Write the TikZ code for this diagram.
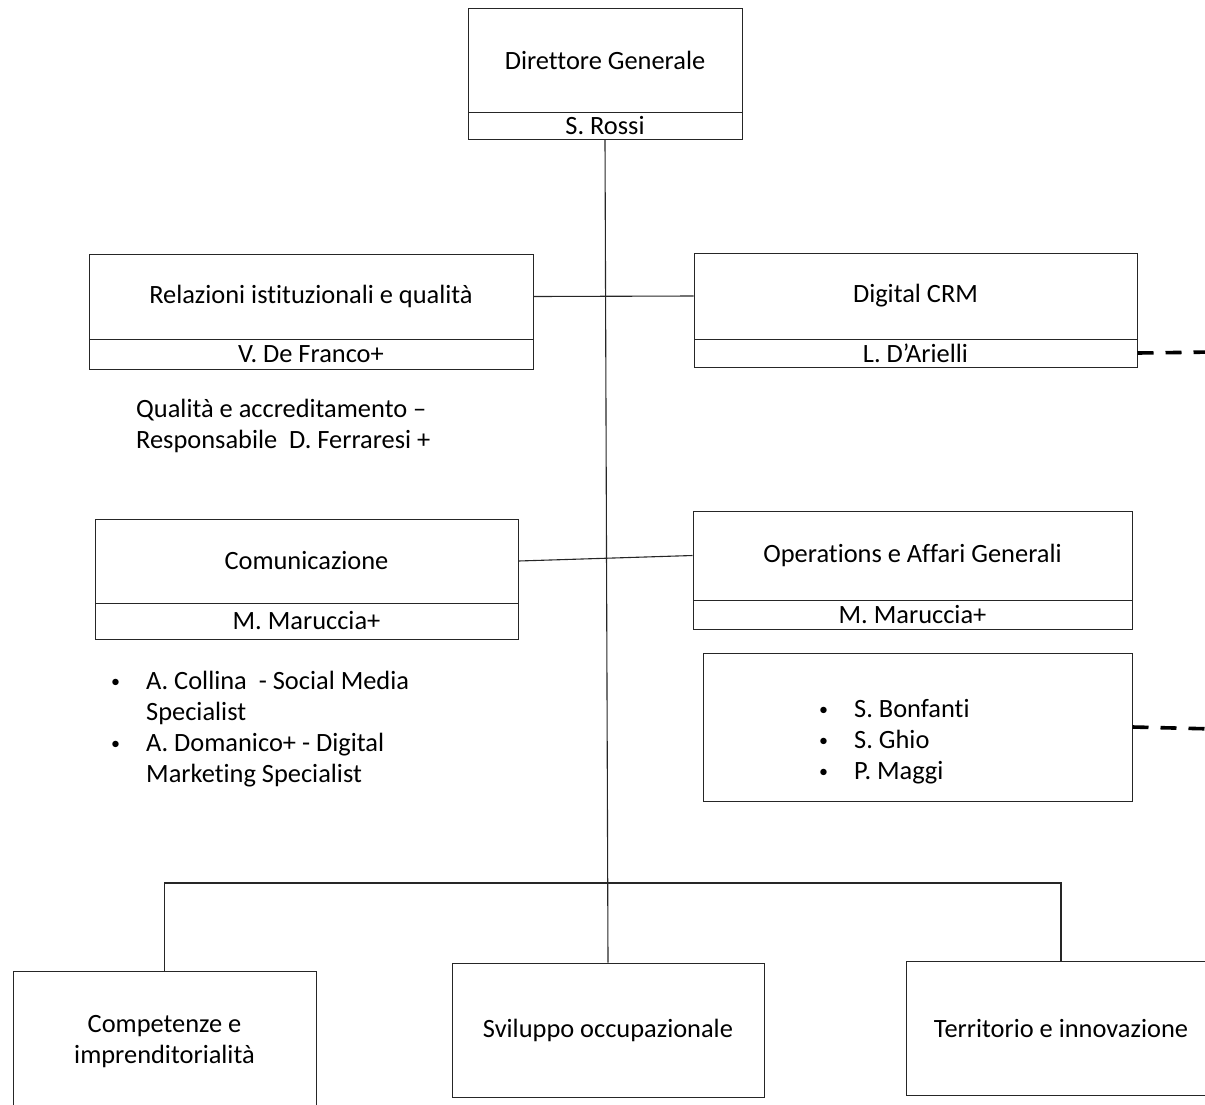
\documentclass[tikz,border=0pt]{standalone}
\usepackage{fontspec}
\setmainfont{Carlito}[Ligatures=NoCommon]
\usetikzlibrary{calc}
\newcommand{\mybul}{{\fontsize{18}{18}\selectfont\raisebox{0.12em}{\textbullet}}}
\begin{document}
\begin{tikzpicture}[x=1pt,y=-1pt,
  every node/.style={font=\fontsize{26.4}{31}\selectfont},
  box/.style={draw=black!85, line width=1pt, rectangle, inner sep=0pt},
  conn/.style={draw=black!85, line width=1.1pt},
  dashline/.style={draw=black, line width=3.6pt, dash pattern=on 16pt off 12pt},
  freetext/.style={inner sep=0pt, align=left}]
\useasboundingbox (0,0) rectangle (1205,1104);
\clip (0,0) rectangle (1205,1104);
% Direttore Generale
\node[box, minimum width=274, minimum height=104] (dg) at (605,60) {Direttore Generale};
\node[box, minimum width=274, minimum height=27] (dgN) at (605,125.5) {S. Rossi};
% Relazioni istituzionali
\node[box, minimum width=444, minimum height=85] (rel) at (311,296.5) {Relazioni istituzionali e qualità};
\node[box, minimum width=444, minimum height=30] (relN) at (311,354) {V. De Franco+};
% Digital CRM
\node[box, minimum width=443, minimum height=86] (crm) at (915.5,296) {Digital CRM};
\node[box, minimum width=443, minimum height=28] (crmN) at (915.5,353) {L. D’Arielli};
% Comunicazione
\node[box, minimum width=423, minimum height=84] (com) at (306.5,561) {Comunicazione};
\node[box, minimum width=423, minimum height=36] (comN) at (306.5,621) {M. Maruccia+};
% Operations
\node[box, minimum width=439, minimum height=89] (ops) at (912.5,555.5) {Operations e Affari Generali};
\node[box, minimum width=439, minimum height=29] (opsN) at (912.5,614.5) {M. Maruccia+};
% Staff box
\node[box, minimum width=429, minimum height=148] (staff) at (917.5,727) {};
\node[freetext, anchor=west] (staffL) at (819,742.5) {\begin{tabular}{@{}p{35pt}@{}l@{}}\mybul & S. Bonfanti\\ \mybul & S. Ghio\\ \mybul & P. Maggi\end{tabular}};
% Free texts
\node[freetext, anchor=west] (qual) at (136,426) {Qualità e accreditamento –\\Responsabile\ \ D. Ferraresi +};
\node[freetext, anchor=west] (comL) at (111,729.5) {\begin{tabular}{@{}p{35pt}@{}l@{}}\mybul & A. Collina\ \ - Social Media\\ & Specialist\\ \mybul & A. Domanico+ - Digital\\ & Marketing Specialist\end{tabular}};
% Bottom boxes
\node[box, minimum width=303, minimum height=142, align=center] (comp) at (164.5,1042) {Competenze e\\imprenditorialità};
\node[box, minimum width=312, minimum height=134] (svil) at (608,1030) {Sviluppo occupazionale};
\node[box, minimum width=310, minimum height=134] (terr) at (1061,1028) {Territorio e innovazione};
% Connectors
\draw[conn] (dgN.south) -- (svil.north);
\draw[conn] (rel.east) -- (crm.west);
\draw[conn] (com.east) -- (ops.west);
\coordinate (bus) at (0,883);
\draw[conn] (comp.north) -- (comp.north |- bus) -- (terr.north |- bus) -- (terr.north);
% Dashed links
\coordinate (e1) at (1215,352);
\coordinate (e2) at (1215,729);
\draw[dashline] (crmN.east) -- (e1);
\draw[dashline] (staff.east) -- (e2);
\end{tikzpicture}
\end{document}
